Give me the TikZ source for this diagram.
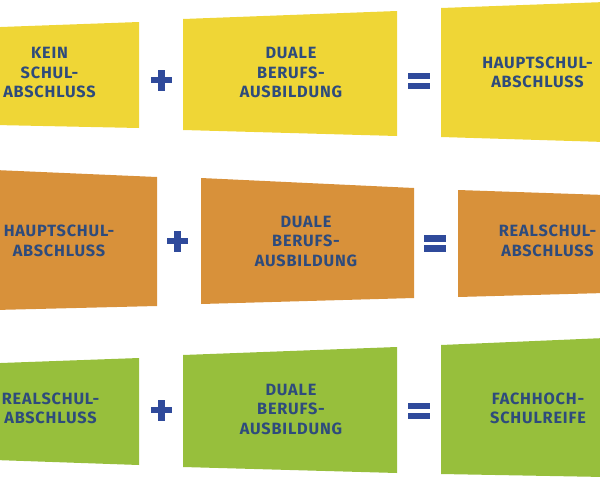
\documentclass[tikz,border=0pt]{standalone}
\usepackage{fontspec}
\setmainfont{Fira Sans}
\usetikzlibrary{calc}
\definecolor{gelb}{HTML}{EFD636}
\definecolor{ocker}{HTML}{D8913A}
\definecolor{gruen}{HTML}{97BF3C}
\definecolor{schrift}{HTML}{2E4B7C}
\definecolor{zeichen}{HTML}{2F4A9B}
\tikzset{
  ybox/.style={fill=gelb},
  obox/.style={fill=ocker},
  gbox/.style={fill=gruen},
  tnode/.style={align=center,inner sep=0pt,text=schrift,font=\addfontfeature{LetterSpace=5}\bfseries\fontsize{16.3}{19.5}\selectfont},
  psign/.style={minimum size=22pt,inner sep=0pt,path picture={
    \fill[zeichen] ($(path picture bounding box.center)+(-10.5pt,-3.3pt)$) rectangle ++(21pt,6.6pt);
    \fill[zeichen] ($(path picture bounding box.center)+(-3.5pt,-10.5pt)$) rectangle ++(7pt,21pt);}},
  esign/.style={minimum width=22pt,minimum height=17pt,inner sep=0pt,path picture={
    \fill[zeichen] ($(path picture bounding box.center)+(-11pt,1.7pt)$) rectangle ++(22pt,6.5pt);
    \fill[zeichen] ($(path picture bounding box.center)+(-11pt,-8.2pt)$) rectangle ++(22pt,6.5pt);}}
}
\begin{document}
\begin{tikzpicture}[x=1pt,y=-1pt]
\useasboundingbox (0,0) rectangle (600,480);
\clip (0,0) rectangle (600,480);
% Zeile 1
\fill[ybox] (-5,27.2) -- (139,22) -- (139,128) -- (-5,125) -- cycle;
\fill[ybox] (183,19) -- (397,11) -- (397,136) -- (183,130) -- cycle;
\fill[ybox] (441,8) -- (605,2) -- (605,142) -- (441,137) -- cycle;
\node[tnode] (A1) at (49.5,72.5) {KEIN\\SCHUL-\\ABSCHLUSS};
\node[tnode] (B1) at (291,72.5) {DUALE\\BERUFS-\\AUSBILDUNG};
\node[tnode] (C1) at (537.5,72.5) {HAUPTSCHUL-\\ABSCHLUSS};
\node[psign] (P1) at (161,80) {};
\node[esign] (E1) at (419,81) {};
% Zeile 2
\fill[obox] (-5,170) -- (157,177) -- (157,306) -- (-5,310) -- cycle;
\fill[obox] (201,178) -- (414,188) -- (414,298) -- (201,304) -- cycle;
\fill[obox] (458,190) -- (605,195) -- (605,293) -- (458,297) -- cycle;
\node[tnode] (A2) at (59,241) {HAUPTSCHUL-\\ABSCHLUSS};
\node[tnode] (B2) at (306,241) {DUALE\\BERUFS-\\AUSBILDUNG};
\node[tnode] (C2) at (547.5,241) {REALSCHUL-\\ABSCHLUSS};
\node[psign] (P2) at (177,241) {};
\node[esign] (E2) at (435,243.5) {};
% Zeile 3
\fill[gbox] (-5,363.2) -- (139,358) -- (139,465) -- (-5,460) -- cycle;
\fill[gbox] (183,355) -- (397,347) -- (397,473) -- (183,467) -- cycle;
\fill[gbox] (441,345) -- (605,338) -- (605,477) -- (441,474) -- cycle;
\node[tnode] (A3) at (50.5,408.5) {REALSCHUL-\\ABSCHLUSS};
\node[tnode] (B3) at (291,409) {DUALE\\BERUFS-\\AUSBILDUNG};
\node[tnode] (C3) at (538,408.5) {FACHHOCH-\\SCHULREIFE};
\node[psign] (P3) at (161,410) {};
\node[esign] (E3) at (419,411) {};
\end{tikzpicture}
\end{document}
